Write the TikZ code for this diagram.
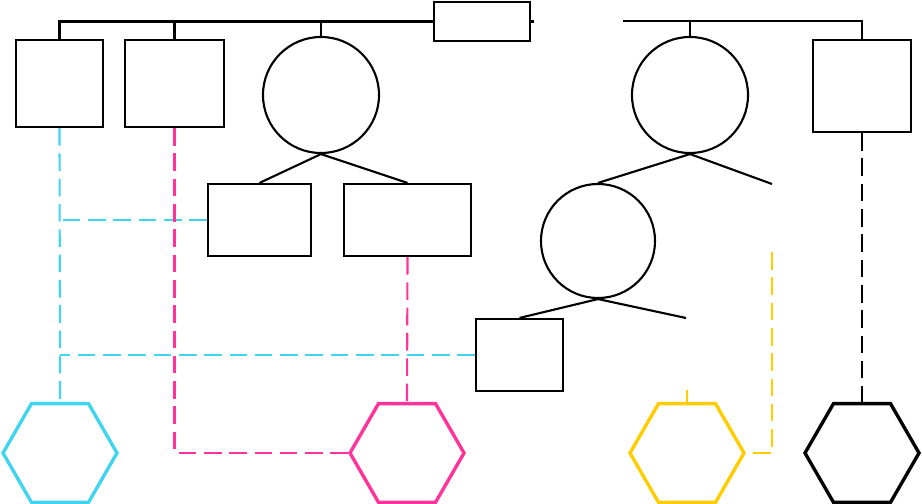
\documentclass[tikz,border=0pt]{standalone}
\usetikzlibrary{positioning, shapes}
\definecolor{linkcyan}{RGB}{64,212,240}
\definecolor{linkpink}{RGB}{255,51,153}
\definecolor{linkyellow}{RGB}{255,204,0}
\tikzstyle{treebox} = [draw, line width=1.5pt, rectangle, inner sep=0pt]
\tikzstyle{treecirc} = [draw, line width=1.5pt, circle, inner sep=0pt, minimum size=2.9cm]
\tikzstyle{hexnode} = [draw, line width=2.4pt, regular polygon, regular polygon sides=6, inner sep=0pt, minimum size=2.85cm]
\tikzstyle{tree} = [line width=1.5pt]
\tikzstyle{link} = [line width=1.5pt, dash pattern=on 12.5pt off 5.5pt]

\begin{document}
\begin{tikzpicture}[x=0.025cm, y=-0.025cm]
      \useasboundingbox (0,0) rectangle (922,504);
      % top row
      \node[treebox, minimum width=2.4cm, minimum height=0.975cm] (root) at (482,21.5) {};
      \node[treebox, minimum width=2.175cm, minimum height=2.175cm] (boxa) at (59.5,83.5) {};
      \node[treebox, minimum width=2.475cm, minimum height=2.175cm] (boxb) at (174.5,83.5) {};
      \node[treecirc] (circa) at (321,95) {};
      \node[treecirc] (circb) at (690,95) {};
      \node[treebox, minimum width=2.45cm, minimum height=2.3cm] (boxr) at (862,86) {};
      % second row
      \node[treebox, minimum width=2.575cm, minimum height=1.8cm] (boxc) at (259.5,220) {};
      \node[treebox, minimum width=3.175cm, minimum height=1.8cm] (boxd) at (407.5,220) {};
      \node[treecirc, minimum size=2.85cm] (circc) at (598,241) {};
      \node[treebox, minimum width=2.175cm, minimum height=1.8cm] (boxe) at (519.5,355) {};
      % hexagons
      \node[hexnode, draw=linkcyan] (hexa) at (60,453) {};
      \node[hexnode, draw=linkpink] (hexb) at (407,453) {};
      \node[hexnode, draw=linkyellow] (hexc) at (687,453) {};
      \node[hexnode, draw=black] (hexd) at (862,453) {};

      \coordinate (rline) at (623,21);
      \coordinate (circbr) at (772,184);
      \coordinate (circcr) at (686,318);
      \coordinate (ytop) at (772,252);

      % tree lines
      \draw[tree] (boxa.north) |- (root.west);
      \draw[tree] (boxb.north) -- (boxb.north |- root.west);
      \draw[tree] (circa.north) -- (circa.north |- root.west);
      \draw[tree] (root.east) -- ++(3,0);
      \draw[tree] (rline) -| (boxr.north);
      \draw[tree] (circb.north) -- (circb.north |- rline);
      \draw[tree] (circa.south) -- (boxc.north);
      \draw[tree] (circa.south) -- (boxd.north);
      \draw[tree] (circb.south) -- (circc.north);
      \draw[tree] (circb.south) -- (circbr);
      \draw[tree] (circc.south) -- (boxe.north);
      \draw[tree] (circc.south) -- (circcr);

      % dashed links
      \draw[link, linkcyan] (boxa.south) -- (hexa.north);
      \draw[link, linkcyan] (boxc.west) -- (boxc.west -| boxa.south);
      \draw[link, linkcyan] (boxe.west) -- (boxe.west -| boxa.south);
      \draw[link, linkpink] (boxb.south) |- (hexb.west);
      \draw[link, linkpink] (boxd.south) -- (hexb.north);
      \draw[link, linkyellow] (ytop) |- (hexc.east);
      \draw[tree, linkyellow] (hexc.north) -- ++(0,-12);
      \draw[link, black] (boxr.south) -- (hexd.north);
\end{tikzpicture}
\end{document}
